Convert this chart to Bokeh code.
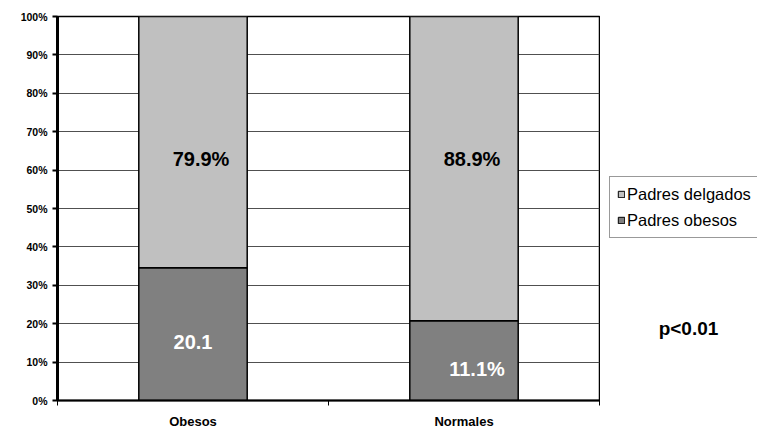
from bokeh.plotting import figure
from bokeh.models import (ColumnDataSource, Range1d, FixedTicker, PrintfTickFormatter,
                          Legend, LegendItem, Label)
from bokeh.layouts import row
from bokeh.core.properties import value
from bokeh.embed import file_html
from bokeh.resources import INLINE

# ---- data ----
categories = ["Obesos", "Normales"]
padres_obesos = [34.6, 20.8]          # dark segment heights (%)
padres_delgados = [65.4, 79.2]        # light segment heights (%)
labels_delgados = ["79.9%", "88.9%"]
labels_obesos = ["20.1", "11.1%"]
y_ticks = [0, 10, 20, 30, 40, 50, 60, 70, 80, 90, 100]
series_names = ["Padres delgados", "Padres obesos"]
note_text = "p<0.01"

FONT = "Liberation Sans"
LIGHT = "#C0C0C0"
DARK = "#808080"

xs = [i + 0.5 for i in range(len(categories))]

p = figure(width=600, height=431, output_backend="svg", toolbar_location=None,
           x_range=Range1d(0, len(categories)), y_range=Range1d(0, 100),
           min_border_left=57, min_border_right=1, min_border_top=16,
           min_border_bottom=30, background_fill_color="white",
           border_fill_color="white", outline_line_color="black",
           outline_line_width=1.5)

src = ColumnDataSource(dict(x=xs, cat=categories, obesos=padres_obesos,
                            delgados=padres_delgados))
rs = p.vbar_stack(["obesos", "delgados"], x="x", width=0.4, source=src,
                  color=[DARK, LIGHT], line_color="black", line_width=1.5)

# value labels
lab_light = ColumnDataSource(dict(
    x=xs,
    y=[o + d / 2 for o, d in zip(padres_obesos, padres_delgados)],
    t=labels_delgados,
    dx=[8, 8],
    dy=[17, -10]))
p.text(x="x", y="y", text="t", x_offset="dx", y_offset="dy", source=lab_light,
       text_font=value(FONT), text_font_style="bold", text_font_size="20px",
       text_color="black", text_align="center", text_baseline="middle")

lab_dark = ColumnDataSource(dict(
    x=xs,
    y=[o / 2 for o in padres_obesos],
    t=labels_obesos,
    dx=[0, 13],
    dy=[8, 8]))
p.text(x="x", y="y", text="t", x_offset="dx", y_offset="dy", source=lab_dark,
       text_font=value(FONT), text_font_style="bold", text_font_size="20px",
       text_color="white", text_align="center", text_baseline="middle")

# axes
p.xgrid.visible = False
p.ygrid.ticker = FixedTicker(ticks=y_ticks)
p.ygrid.grid_line_color = "#505050"
p.ygrid.grid_line_width = 1

ya = p.yaxis[0]
ya.ticker = FixedTicker(ticks=y_ticks)
ya.formatter = PrintfTickFormatter(format="%d%%")
ya.axis_line_color = "black"
ya.axis_line_width = 3
ya.major_tick_line_color = "black"
ya.major_tick_line_width = 2
ya.major_tick_out = 5
ya.major_tick_in = 0
ya.minor_tick_line_color = None
ya.major_label_standoff = 5
ya.major_label_text_font = FONT
ya.major_label_text_font_style = "bold"
ya.major_label_text_font_size = "10.5px"
ya.major_label_text_color = "black"

xa = p.xaxis[0]
xa.ticker = FixedTicker(ticks=xs, minor_ticks=list(range(len(categories) + 1)))
xa.major_label_overrides = {x: c for x, c in zip(xs, categories)}
xa.axis_line_color = "black"
xa.axis_line_width = 2
xa.major_tick_line_color = None
xa.major_tick_out = 0
xa.major_tick_in = 0
xa.minor_tick_line_color = "black"
xa.minor_tick_line_width = 1
xa.minor_tick_out = 5
xa.minor_tick_in = 0
xa.major_label_standoff = 8
xa.major_label_text_font = FONT
xa.major_label_text_font_style = "bold"
xa.major_label_text_font_size = "13px"
xa.major_label_text_color = "black"

# side panel with legend and note (legend proxies lie outside its ranges)
p2 = figure(width=157, height=431, output_backend="svg", toolbar_location=None,
            x_range=Range1d(0, 1), y_range=Range1d(0, 1),
            x_axis_type=None, y_axis_type=None, min_border=0,
            outline_line_color=None, background_fill_color="white",
            border_fill_color="white")
p2.xgrid.visible = False
p2.ygrid.visible = False
proxy_x = [len(categories) + 5]
r_light = p2.vbar(x=proxy_x, top=padres_delgados[:1], width=0.1, color=LIGHT,
                  line_color="black", line_width=1)
r_dark = p2.vbar(x=proxy_x, top=padres_obesos[:1], width=0.1, color=DARK,
                 line_color="black", line_width=1)

legend = Legend(items=[LegendItem(label=series_names[0], renderers=[r_light]),
                       LegendItem(label=series_names[1], renderers=[r_dark])],
                location=(9, 162), orientation="vertical",
                glyph_width=8, glyph_height=8, label_standoff=2,
                label_height=20, spacing=6, padding=7, margin=0,
                label_text_font=FONT, label_text_font_size="16.5px",
                label_text_color="black", border_line_color="#333333",
                border_line_width=1, background_fill_color="white",
                background_fill_alpha=1)
p2.add_layout(legend, "center")

note = Label(x=88, y=72, x_units="screen", y_units="screen", text=note_text,
             text_font=FONT, text_font_style="bold", text_font_size="19px",
             text_color="black", text_align="center", text_baseline="middle")
p2.add_layout(note)

layout = row(p, p2, spacing=0)
open("out.html", "w").write(file_html(layout, INLINE))
